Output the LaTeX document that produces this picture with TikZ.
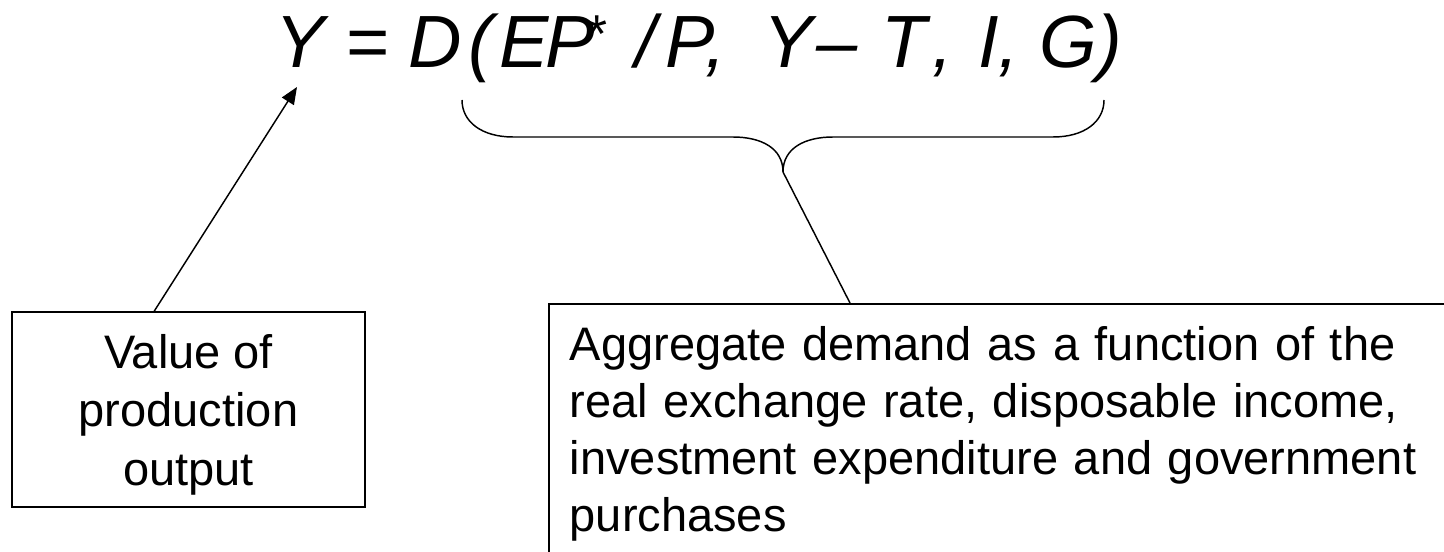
\documentclass[tikz,border=0pt]{standalone}
\usepackage{fontspec}
\setmainfont{Liberation Sans}
\usetikzlibrary{arrows.meta,calc}
\begin{document}
\begin{tikzpicture}[x=0.75pt,y=-0.75pt,
  box/.style={draw, line width=1.2pt, inner sep=0pt},
  lbl/.style={font=\fontsize{35.25pt}{43.9pt}\selectfont},
  conn/.style={line width=1.1pt},
  eqn/.style={anchor=base west, inner sep=0pt, font=\fontsize{55.5pt}{66pt}\selectfont\itshape}
]
\clip (0,0) rectangle (1444,552);
\fill[white] (0,0) rectangle (1444,552);
\node[eqn] (eq) at (275,68) {Y = D \kern-10.5pt(\kern4.5pt E\kern-2.6pt P\kern-7.4pt\raisebox{11.25pt}{\fontsize{40pt}{48pt}\selectfont *}\kern22.1pt/\kern7.3pt P, \kern13pt Y\kern2.5pt– \kern2.8pt T\kern3.75pt, \kern3.75pt I, G)};
\node[box, lbl, minimum width=264.75pt, minimum height=146.25pt, align=center] (val) at (188.5,409.5) {\rule{0pt}{33.2pt}Value of\\production\\output};
\node[box, font=\fontsize{35.25pt}{42.75pt}\selectfont, anchor=north west, align=left, text width=675pt, inner xsep=15.75pt, inner ysep=17.25pt] (agg) at (548,303) {Aggregate demand as a function of the\\real exchange rate, disposable income,\\investment expenditure and government\\purchases};
\coordinate (ytip) at (297,87);
\coordinate (btip) at (783,172);
\draw[conn, -{Triangle[length=12.75pt,width=10.5pt]}] ($(val.north west)+(143,0)$) -- (ytip);
\draw[conn] (462,100) .. controls (462,122) and (482,137) .. (513,137) -- (733,137) .. controls (761,137) and (783,148) .. (btip) .. controls (783,148) and (805,137) .. (833,137) -- (1053,137) .. controls (1084,137) and (1104,122) .. (1104,100);
\draw[conn] (btip) -- ($(agg.north west)+(302,0)$);
\end{tikzpicture}
\end{document}
